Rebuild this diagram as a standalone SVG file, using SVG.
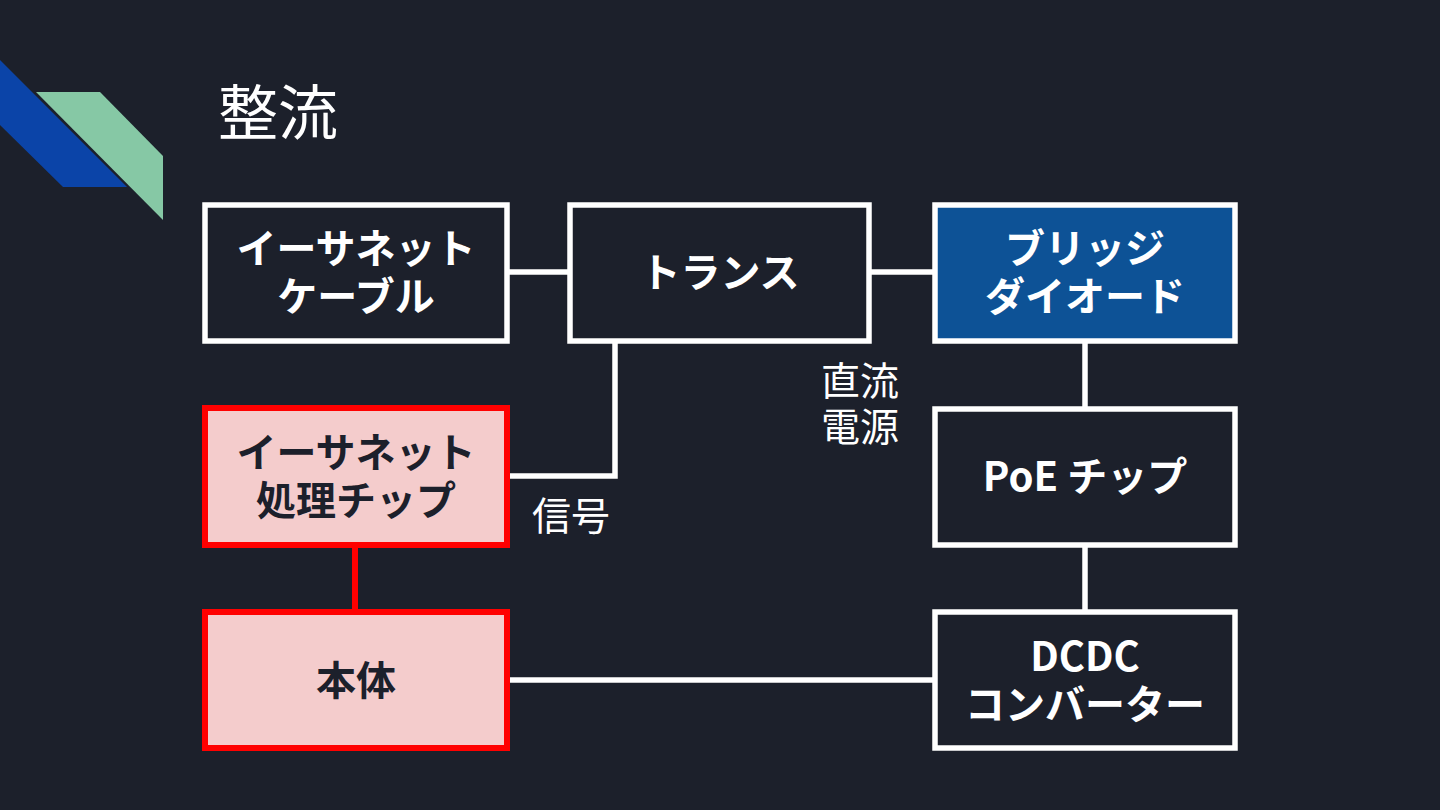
<svg xmlns="http://www.w3.org/2000/svg" width="1440" height="810" viewBox="0 0 1440 810">
<style>
.box{fill:#1c202b;stroke:#ffffff;stroke-width:5.5}
.blue{fill:#0d5296;stroke:#ffffff;stroke-width:5.5}
.red{fill:#f4cccc;stroke:#ff0000;stroke-width:6}
.t{font-family:"Noto Sans CJK JP","Noto Sans",sans-serif;font-weight:bold;font-size:40px;fill:#ffffff;text-anchor:middle}
.d{fill:#1c202b}
.lbl{font-family:"Noto Sans CJK JP",sans-serif;font-size:39px;fill:#ffffff}
.w{stroke:#ffffff;stroke-width:5.5;fill:none}
.r{stroke:#ff0000;stroke-width:6;fill:none}
</style>
<rect width="1440" height="810" fill="#1c202b"/>
<polygon points="0,60 127,187 63,187 0,125" fill="#0b44a8"/>
<polygon points="36,92 100,92 163,156 163,220" fill="#86c8a5"/>
<text x="218" y="135" font-family="Noto Sans CJK JP, sans-serif" font-size="60" fill="#ffffff">整流</text>
<g id="connectors">
<line class="w" x1="507" y1="272" x2="570" y2="272"/>
<line class="w" x1="869" y1="272" x2="935" y2="272"/>
<line class="w" x1="1085" y1="341" x2="1085" y2="409"/>
<line class="w" x1="1085" y1="545" x2="1085" y2="612"/>
<polyline class="w" points="615,341 615,476 507,476"/>
<line class="w" x1="507" y1="680" x2="935" y2="680"/>
<line class="r" x1="355" y1="545" x2="355" y2="612"/>
</g>
<g id="cable"><rect class="box" x="205" y="205" width="302" height="136"/><text class="t" x="356" y="263">イーサネット</text><text class="t" x="356" y="311">ケーブル</text></g>
<g id="trans"><rect class="box" x="570" y="205" width="299" height="136"/><text class="t" x="720" y="287">トランス</text></g>
<g id="bridge"><rect class="blue" x="935" y="205" width="300" height="136"/><text class="t" x="1085" y="263">ブリッジ</text><text class="t" x="1085" y="311">ダイオード</text></g>
<g id="chip"><rect class="red" x="205" y="408" width="302" height="137"/><text class="t d" x="356" y="467">イーサネット</text><text class="t d" x="356" y="515">処理チップ</text></g>
<g id="poe"><rect class="box" x="935" y="409" width="300" height="136"/><text class="t" x="1085" y="491">PoE チップ</text></g>
<g id="body"><rect class="red" x="205" y="612" width="302" height="136"/><text class="t d" x="356" y="695">本体</text></g>
<g id="dcdc"><rect class="box" x="935" y="612" width="300" height="136"/><text class="t" x="1085" y="671">DCDC</text><text class="t" x="1085" y="719">コンバーター</text></g>
<text class="lbl" x="821" y="395">直流</text>
<text class="lbl" x="821" y="441">電源</text>
<text class="lbl" x="532" y="530">信号</text>
</svg>
